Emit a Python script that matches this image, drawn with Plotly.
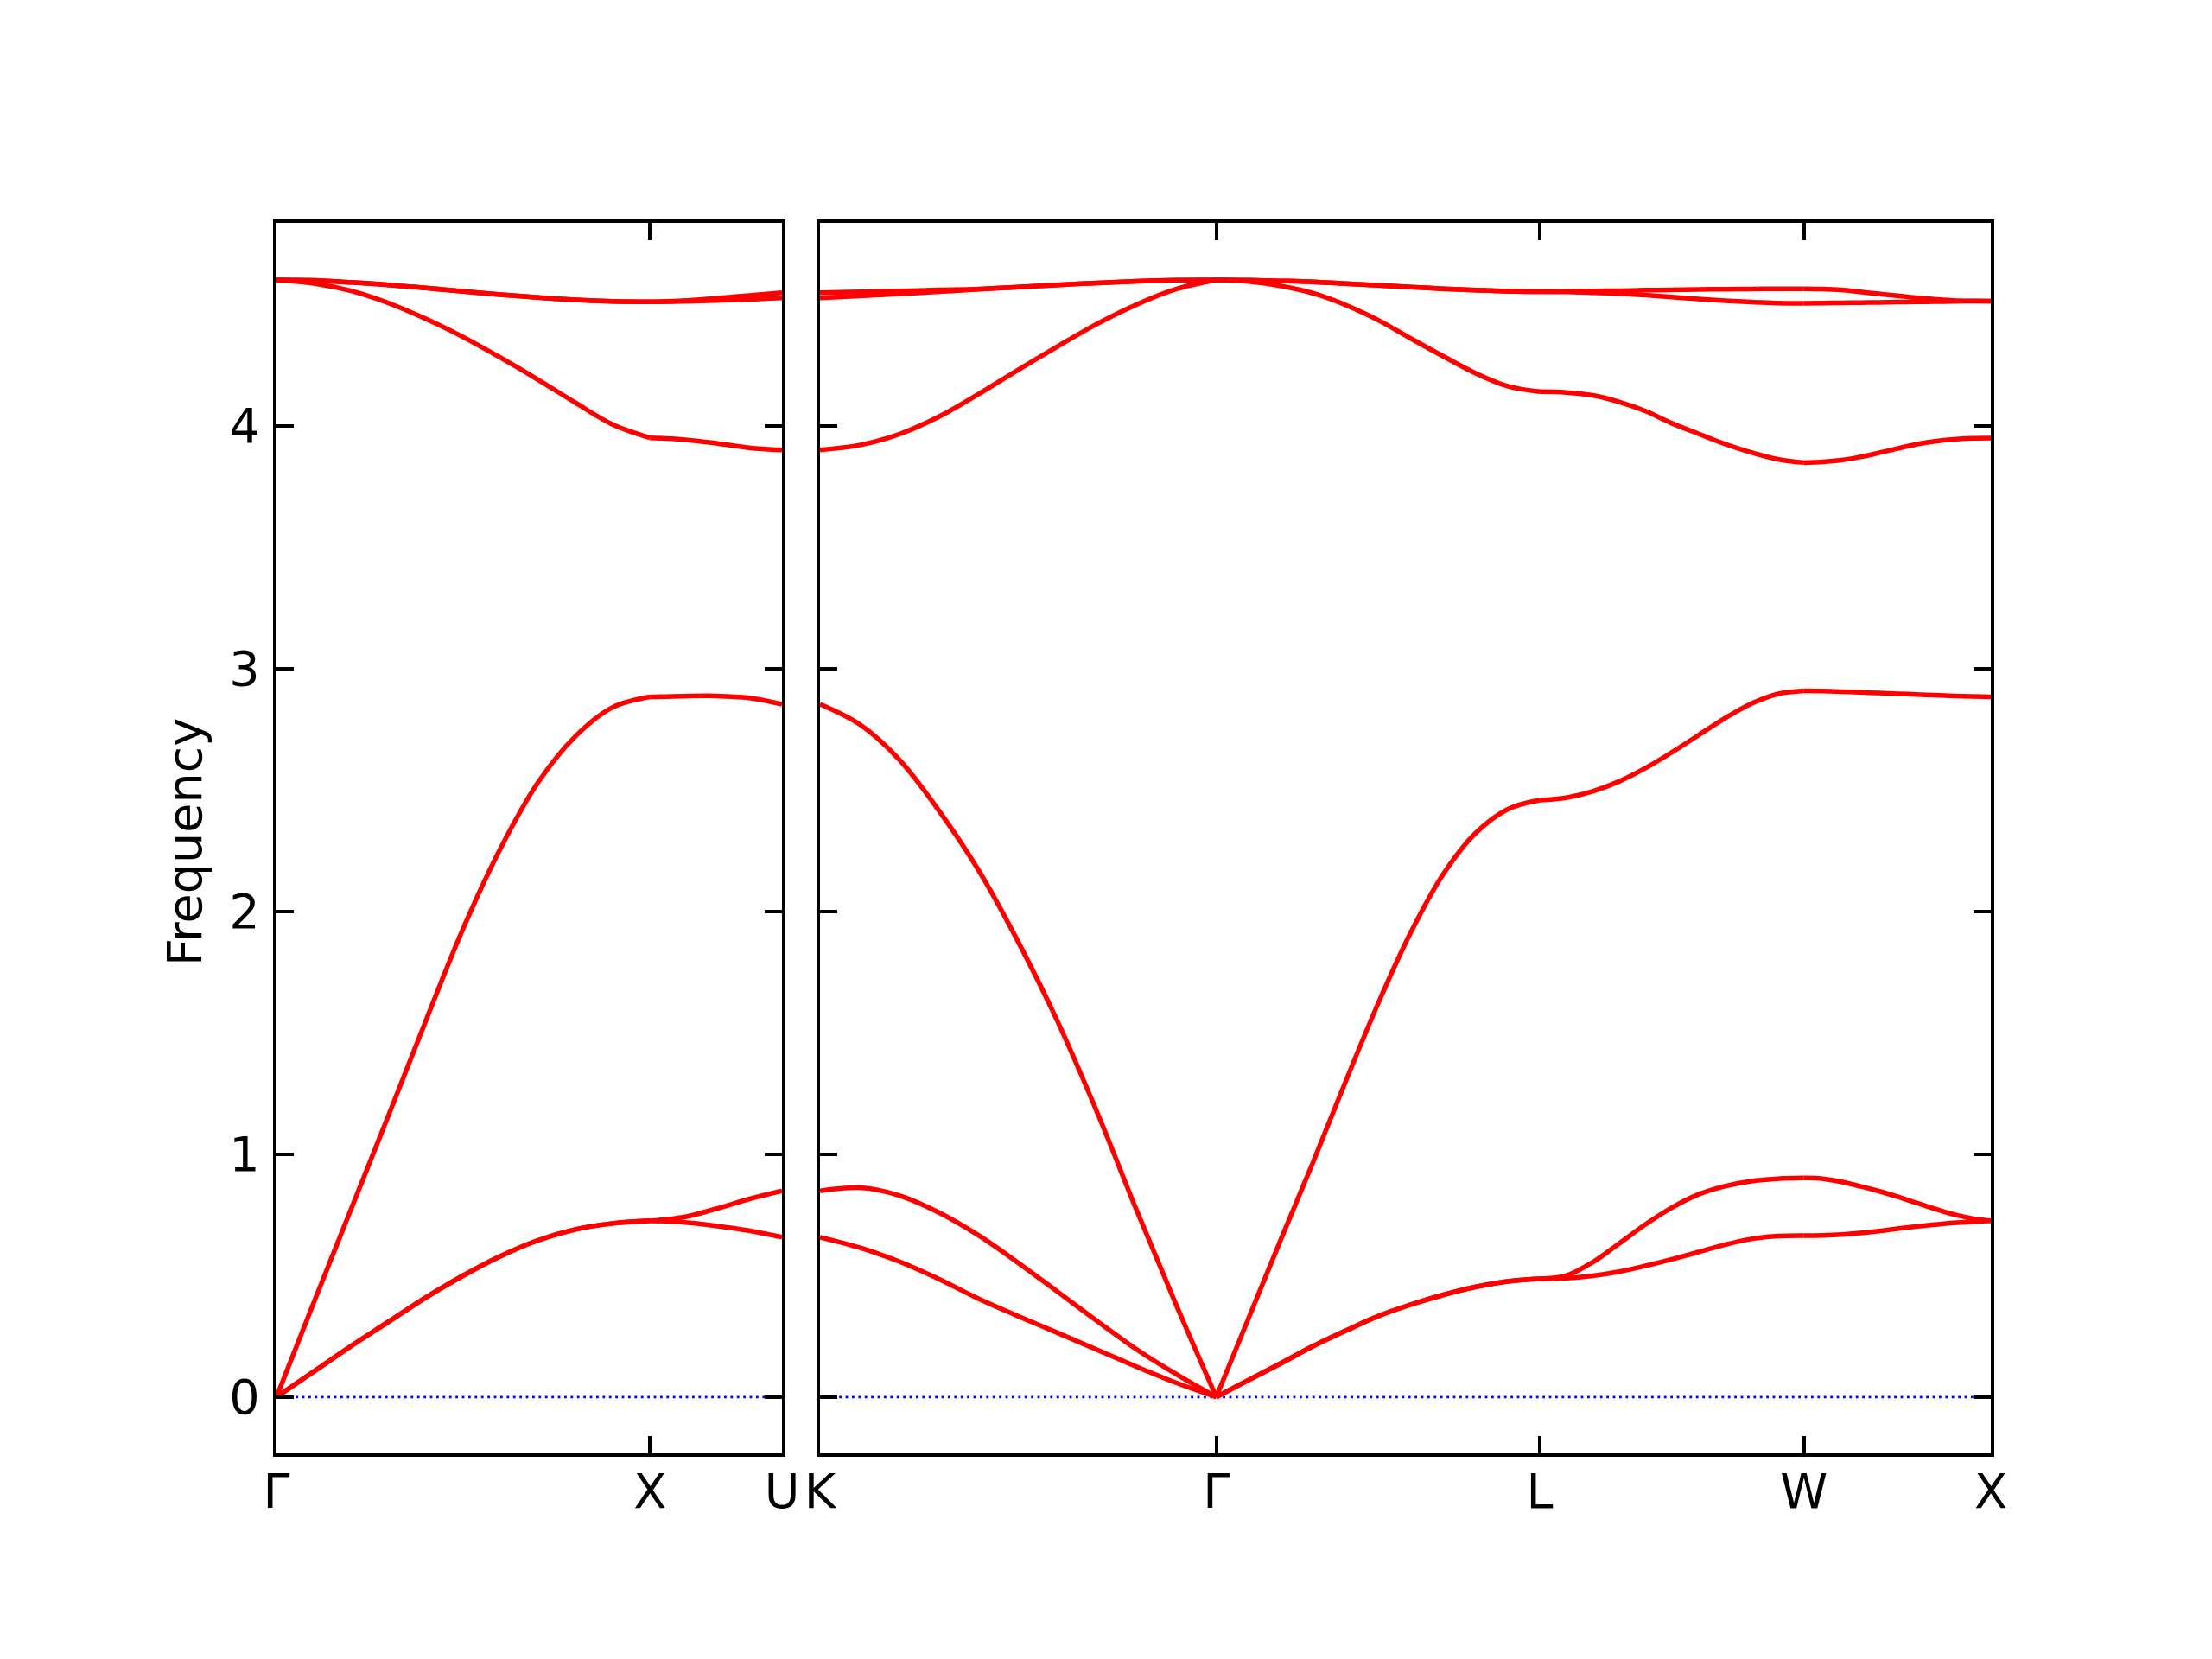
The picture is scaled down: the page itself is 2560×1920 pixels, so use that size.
import plotly.graph_objects as go

# ---------------- data ----------------
labels_left = ["Γ", "X", "U"]
labels_right = ["K", "Γ", "L", "W", "X"]
seg_lengths_left = [1.0, 0.35355]                      # Γ-X, X-U
seg_lengths_right = [1.06066, 0.86603, 0.70711, 0.5]   # K-Γ, Γ-L, L-W, W-X

frac10 = [0.0, 0.1, 0.2, 0.3, 0.4, 0.5, 0.6, 0.7, 0.8, 0.9, 1.0]
frac4 = [0.0, 0.25, 0.5, 0.75, 1.0]

yticks = [0, 1, 2, 3, 4]
zero_level = 0.0

# six bands per segment (lowest first)
bands_GX = [
    [0, 0.105, 0.21, 0.31, 0.41, 0.50, 0.58, 0.645, 0.69, 0.715, 0.726],
    [0, 0.105, 0.21, 0.31, 0.41, 0.50, 0.58, 0.645, 0.69, 0.715, 0.726],
    [0, 0.39, 0.775, 1.16, 1.55, 1.93, 2.26, 2.53, 2.72, 2.84, 2.883],
    [4.60, 4.586, 4.555, 4.505, 4.44, 4.365, 4.28, 4.19, 4.095, 4.005, 3.95],
    [4.60, 4.598, 4.59, 4.58, 4.567, 4.553, 4.54, 4.528, 4.518, 4.512, 4.51],
    [4.60, 4.598, 4.59, 4.58, 4.567, 4.553, 4.54, 4.528, 4.518, 4.512, 4.51],
]
bands_XU = [
    [0.726, 0.72, 0.705, 0.685, 0.658],
    [0.726, 0.74, 0.775, 0.815, 0.849],
    [2.883, 2.886, 2.887, 2.879, 2.853],
    [3.95, 3.943, 3.928, 3.909, 3.90],
    [4.51, 4.512, 4.516, 4.52, 4.526],
    [4.51, 4.515, 4.525, 4.536, 4.548],
]
bands_KG = [
    [0.658, 0.615, 0.558, 0.486, 0.405, 0.333, 0.264, 0.194, 0.124, 0.058, 0],
    [0.849, 0.862, 0.83, 0.76, 0.666, 0.553, 0.433, 0.312, 0.195, 0.093, 0],
    [2.853, 2.77, 2.625, 2.415, 2.17, 1.875, 1.545, 1.17, 0.765, 0.375, 0],
    [3.90, 3.92, 3.965, 4.037, 4.13, 4.23, 4.327, 4.42, 4.50, 4.563, 4.60],
    [4.526, 4.534, 4.543, 4.552, 4.562, 4.571, 4.58, 4.588, 4.595, 4.599, 4.60],
    [4.548, 4.551, 4.555, 4.559, 4.563, 4.571, 4.58, 4.588, 4.595, 4.599, 4.60],
]
bands_GL = [
    [0, 0.07, 0.139, 0.21, 0.273, 0.333, 0.38, 0.42, 0.453, 0.476, 0.487],
    [0, 0.07, 0.139, 0.21, 0.273, 0.333, 0.38, 0.42, 0.453, 0.476, 0.487],
    [0, 0.325, 0.65, 0.97, 1.30, 1.62, 1.91, 2.15, 2.32, 2.42, 2.458],
    [4.60, 4.594, 4.575, 4.545, 4.497, 4.435, 4.36, 4.287, 4.217, 4.163, 4.14],
    [4.60, 4.599, 4.596, 4.592, 4.585, 4.578, 4.571, 4.564, 4.558, 4.554, 4.552],
    [4.60, 4.599, 4.596, 4.592, 4.585, 4.578, 4.571, 4.564, 4.558, 4.554, 4.552],
]
bands_LW = [
    [0.487, 0.489, 0.499, 0.516, 0.54, 0.567, 0.597, 0.627, 0.651, 0.663, 0.665],
    [0.487, 0.50, 0.555, 0.632, 0.711, 0.78, 0.834, 0.868, 0.889, 0.899, 0.902],
    [2.458, 2.468, 2.494, 2.535, 2.59, 2.655, 2.725, 2.795, 2.855, 2.895, 2.908],
    [4.14, 4.137, 4.125, 4.098, 4.06, 4.01, 3.967, 3.925, 3.89, 3.862, 3.848],
    [4.552, 4.551, 4.548, 4.544, 4.538, 4.53, 4.522, 4.515, 4.509, 4.505, 4.504],
    [4.552, 4.553, 4.555, 4.556, 4.558, 4.559, 4.561, 4.562, 4.563, 4.564, 4.564],
]
bands_WX = [
    [0.665, 0.666, 0.669, 0.675, 0.683, 0.693, 0.702, 0.71, 0.717, 0.722, 0.726],
    [0.902, 0.899, 0.886, 0.868, 0.848, 0.825, 0.80, 0.775, 0.752, 0.735, 0.726],
    [2.908, 2.907, 2.905, 2.902, 2.899, 2.896, 2.893, 2.89, 2.887, 2.885, 2.883],
    [3.848, 3.851, 3.858, 3.871, 3.888, 3.906, 3.923, 3.936, 3.944, 3.948, 3.949],
    [4.504, 4.505, 4.506, 4.507, 4.508, 4.509, 4.51, 4.511, 4.512, 4.513, 4.513],
    [4.564, 4.563, 4.559, 4.551, 4.543, 4.535, 4.527, 4.521, 4.516, 4.514, 4.513],
]

# ---------------- build positions along the path ----------------
def cumulative(start, lengths):
    pts = [start]
    for L in lengths:
        pts.append(pts[-1] + L)
    return pts

ticks_left = cumulative(0.0, seg_lengths_left)
ticks_right = cumulative(ticks_left[-1], seg_lengths_right)

segments = [
    (bands_GX, frac10, ticks_left[0], seg_lengths_left[0], "x", "y"),
    (bands_XU, frac4, ticks_left[1], seg_lengths_left[1], "x", "y"),
    (bands_KG, frac10, ticks_right[0], seg_lengths_right[0], "x2", "y2"),
    (bands_GL, frac10, ticks_right[1], seg_lengths_right[1], "x2", "y2"),
    (bands_LW, frac10, ticks_right[2], seg_lengths_right[2], "x2", "y2"),
    (bands_WX, frac10, ticks_right[3], seg_lengths_right[3], "x2", "y2"),
]

fig = go.Figure()

# zero lines (blue dotted)
for xs, xa, ya in [((ticks_left[0], ticks_left[-1]), "x", "y"),
                   ((ticks_right[0], ticks_right[-1]), "x2", "y2")]:
    fig.add_trace(go.Scatter(
        x=list(xs), y=[zero_level, zero_level], mode="lines",
        line=dict(color="#0000ff", width=2.8, dash="2.8px,4.6px"),
        xaxis=xa, yaxis=ya, hoverinfo="skip", showlegend=False))

for bands, fr, start, length, xa, ya in segments:
    xs = [start + f * length for f in fr]
    for b in bands:
        fig.add_trace(go.Scatter(
            x=xs, y=b, mode="lines",
            line=dict(color="#ff0000", width=5.5, shape="spline", smoothing=1.0),
            xaxis=xa, yaxis=ya, hoverinfo="skip", showlegend=False))

# page has an 8px body margin: figure sized so the whole page is 2560x1920
OFF = 8
W, H = 2560 - 2 * OFF, 1920 - 2 * OFF
FONT = dict(family="DejaVu Sans", size=55.6, color="black")
ymin, ymax = -0.232, 4.835


def px_x(p):
    return (p - OFF) / W


def px_y(p):
    return 1 - (p - OFF) / H


axis_common = dict(
    showline=True, linecolor="black", linewidth=4.4, mirror="allticks",
    ticks="inside", ticklen=19.4, tickwidth=4.4, tickcolor="black",
    showgrid=False, zeroline=False, tickfont=FONT, automargin=False,
)

fig.update_layout(
    width=W, height=H,
    margin=dict(l=0, r=0, t=0, b=0),
    paper_bgcolor="white", plot_bgcolor="white",
    font=FONT,
    xaxis=dict(domain=[px_x(320), px_x(905)], range=[ticks_left[0], ticks_left[-1]],
               tickvals=ticks_left, ticktext=labels_left, anchor="y",
               ticklabelstandoff=-8, **axis_common),
    xaxis2=dict(domain=[px_x(949), px_x(2304)], range=[ticks_right[0], ticks_right[-1]],
                tickvals=ticks_right, ticktext=labels_right, anchor="y2",
                ticklabelstandoff=-8, **axis_common),
    yaxis=dict(domain=[px_y(1682), px_y(258)], range=[ymin, ymax],
               tickvals=yticks, ticktext=[str(v) for v in yticks], anchor="x",
               ticklabelstandoff=4, **axis_common),
    yaxis2=dict(domain=[px_y(1682), px_y(258)], range=[ymin, ymax],
                tickvals=yticks, showticklabels=False, anchor="x2",
                **axis_common),
    annotations=[dict(
        text="Frequency", x=px_x(213), y=px_y(975), xref="paper", yref="paper",
        showarrow=False, textangle=-90, font=FONT, xanchor="center", yanchor="middle")],
)

fig.write_html("out.html")
